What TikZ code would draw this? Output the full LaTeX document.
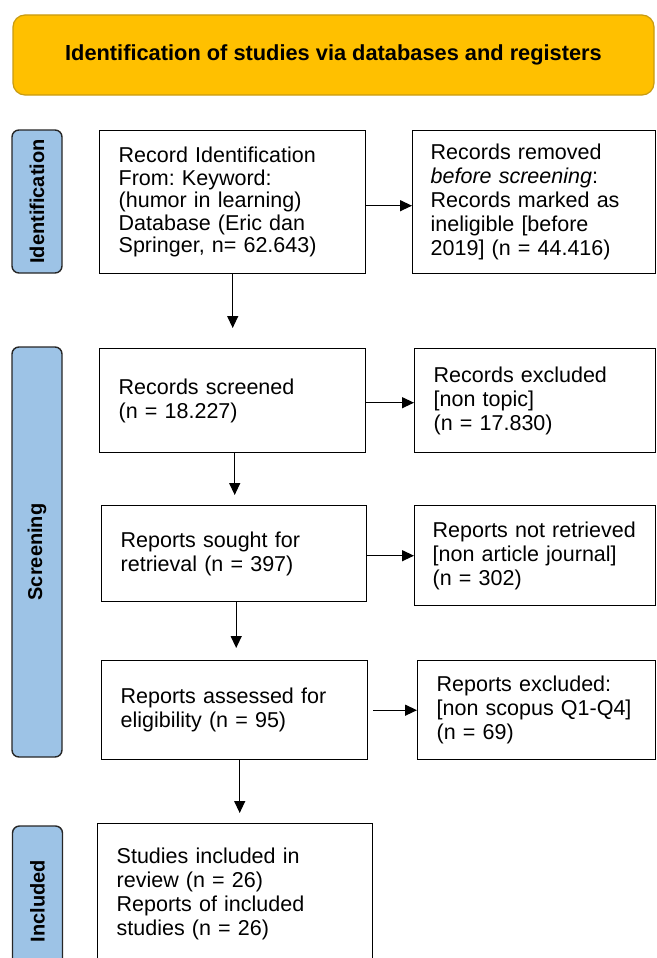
\documentclass[tikz,border=0pt]{standalone}
\usepackage{fontspec}
\setmainfont{Liberation Sans}
\usetikzlibrary{arrows.meta}
\definecolor{bannergold}{HTML}{FFC000}
\definecolor{bannerline}{HTML}{C89B12}
\definecolor{phaseblue}{HTML}{9DC3E6}
\frenchspacing
\begin{document}
\begin{tikzpicture}
	[x=1pt,y=-1pt,
	every node/.style={font=\fontsize{21.5}{24}\selectfont},
	banner/.style={draw=bannerline,fill=bannergold,line width=1.2pt,rounded corners=12pt,
		minimum width=641pt,minimum height=80pt,font=\bfseries\fontsize{21.8}{23}\selectfont},
	phase/.style={draw=black!85,fill=phaseblue,line width=1.4pt,rounded corners=7pt,rotate=90,
		minimum height=50pt,inner sep=0pt,font=\bfseries\fontsize{20}{22}\selectfont},
	box/.style={draw,line width=1.4pt,anchor=north west,align=left,inner xsep=19pt,inner ysep=0pt},
	arr/.style={line width=1.3pt,-{Triangle[length=12pt,width=11pt]}}]
	\useasboundingbox (0,0) rectangle (656,958);
	% header
	\node[banner] (title) at (333.5,55) {Identification of studies via databases and registers};
	% phases
	\node[phase,minimum width=143pt] (ident) at (37,201.5) {Identification};
	\node[phase,minimum width=410pt] (screen) at (37,552) {Screening};
	\node[phase,minimum width=150pt] (incl) at (37.5,901) {Included};
	% main column
	\node[box,text width=228pt,minimum height=143pt,font=\fontsize{21.5}{22.5}\selectfont] (found) at (99,130)
		{Record Identification\\From: Keyword:\\(humor in learning)\\Database (Eric dan\\Springer, n= 62.643)};
	\node[box,text width=228pt,minimum height=104pt] (scrd) at (99,348)
		{Records screened\\(n = 18.227)};
	\node[box,text width=227pt,minimum height=96pt] (sought) at (101,505)
		{Reports sought for\\retrieval (n = 397)};
	\node[box,text width=228pt,minimum height=99pt] (elig) at (101,660)
		{Reports assessed for\\eligibility (n = 95)};
	\node[box,text width=237pt,minimum height=140pt] (incd) at (97,823)
		{Studies included in\\review (n = 26)\\Reports of included\\studies (n = 26)};
	% side column
	\node[box,text width=207pt,inner xsep=18pt,minimum height=143pt] (removed) at (412,130)
		{Records removed\\\textit{before screening}:\\Records marked as\\ineligible [before\\2019] (n = 44.416)};
	\node[box,text width=203pt,minimum height=104pt] (excl) at (414,348)
		{Records excluded\\{[non topic]}\\(n = 17.830)};
	\node[box,text width=205pt,inner xsep=18pt,minimum height=100pt] (notret) at (414,505)
		{Reports not retrieved\\{[non article journal]}\\(n = 302)};
	\node[box,text width=200pt,minimum height=99pt] (rexcl) at (417,660)
		{Reports excluded:\\{[non scopus Q1-Q4]}\\(n = 69)};
	% arrows
	\draw[arr] ([yshift=-3.5pt]found.east) coordinate (h1) -- (removed.west |- h1);
	\draw[arr] ([yshift=-2pt]scrd.east) coordinate (h2) -- (excl.west |- h2);
	\draw[arr] ([yshift=-2pt]sought.east) coordinate (h3) -- (notret.west |- h3);
	\draw[arr,shorten <=5pt] (elig.east) -- (rexcl.west |- elig.east);
	\draw[arr,shorten >=20pt] (found) -- (scrd);
	\draw[arr,shorten >=10pt] ([xshift=2pt]scrd.south) coordinate (v2) -- (sought.north -| v2);
	\draw[arr,shorten >=12pt] ([xshift=2pt]sought.south) coordinate (v3) -- (elig.north -| v3);
	\draw[arr,shorten >=10pt] ([xshift=5pt]elig.south) coordinate (v4) -- (incd.north -| v4);
\end{tikzpicture}
\end{document}
